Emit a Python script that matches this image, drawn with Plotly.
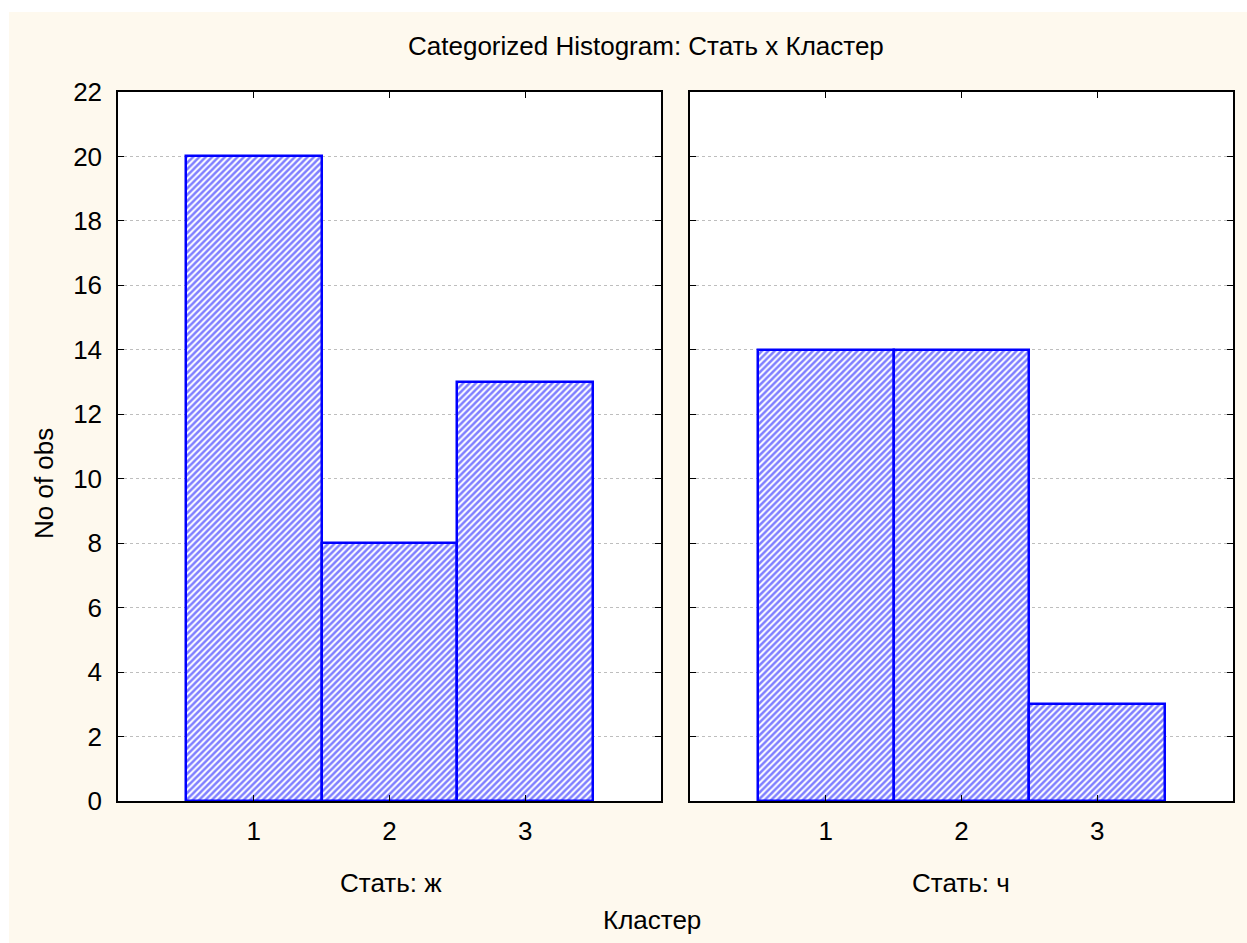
import plotly.graph_objects as go

# Histogram counts per cluster, split by sex
clusters = [1, 2, 3]
counts_f = [20, 8, 13]
counts_m = [14, 14, 3]
panel_labels = ["Стать: ж", "Стать: ч"]
y_ticks = list(range(0, 23, 2))

W, H = 1247, 943
# plot area edges in pixels
L, R, T, B = 118, 1233, 92, 801
FONT = "Liberation Sans, Arial, sans-serif"
FS = 26
BLUE = "#0000FF"
CREAM = "#FEF9EE"


def px_x(p):
    return (p - L) / (R - L)


def px_y(p):
    return (B - p) / (B - T)


fig = go.Figure()

for i, counts in enumerate([counts_f, counts_m]):
    xa = "x" if i == 0 else "x2"
    ya = "y" if i == 0 else "y2"
    fig.add_trace(go.Bar(
        x=clusters, y=counts, width=1, xaxis=xa, yaxis=ya,
        marker=dict(
            color="white",
            line=dict(color=BLUE, width=2.5),
            pattern=dict(shape="/", fgcolor=BLUE, bgcolor="white",
                         size=4.5, solidity=0.55),
        ),
        showlegend=False, hoverinfo="x+y",
    ))

x_domains = [[px_x(118), px_x(661)], [px_x(690), px_x(1233)]]
y_domain = [0, 1]

axis_common = dict(
    showline=True, linecolor="black", linewidth=1.5, mirror="ticks",
    ticks="inside", ticklen=6, tickcolor="black", tickwidth=1,
    zeroline=False,
    tickfont=dict(family=FONT, size=FS, color="black"),
)

layout = dict(
    width=W, height=H,
    margin=dict(l=L, r=W - R, t=T, b=H - B, autoexpand=False),
    paper_bgcolor=CREAM, plot_bgcolor="white",
    bargap=0,
    font=dict(family=FONT, size=FS, color="black"),
)

for i in range(2):
    xkey = "xaxis" if i == 0 else "xaxis2"
    ykey = "yaxis" if i == 0 else "yaxis2"
    layout[xkey] = dict(
        axis_common, domain=x_domains[i], range=[0, 4],
        tickvals=clusters, ticktext=[str(c) for c in clusters],
        showgrid=False, anchor="y" if i == 0 else "y2",
        ticklabelstandoff=6,
    )
    layout[ykey] = dict(
        axis_common, domain=y_domain, range=[0, 22],
        tickvals=y_ticks, showgrid=True, gridcolor="#BEBEBE",
        griddash="dot", gridwidth=1,
        showticklabels=(i == 0), anchor="x" if i == 0 else "x2",
        ticklabelstandoff=9,
    )

fig.update_layout(**layout)

# white frame strips along the top and left edges
fig.add_shape(type="rect", xref="paper", yref="paper",
              x0=px_x(0), x1=px_x(W), y0=px_y(12), y1=px_y(0),
              fillcolor="white", line=dict(width=0), layer="below")
fig.add_shape(type="rect", xref="paper", yref="paper",
              x0=px_x(0), x1=px_x(9), y0=px_y(H), y1=px_y(0),
              fillcolor="white", line=dict(width=0), layer="below")

annotations = [
    dict(text="Categorized Histogram: Стать x Кластер", x=px_x(646), y=px_y(46)),
    dict(text=panel_labels[0], x=px_x(391), y=px_y(883)),
    dict(text=panel_labels[1], x=px_x(961), y=px_y(883)),
    dict(text="Кластер", x=px_x(652), y=px_y(920)),
    dict(text="No of obs", x=px_x(44), y=px_y(484), textangle=-90),
]
for a in annotations:
    fig.add_annotation(xref="paper", yref="paper", showarrow=False,
                       xanchor="center", yanchor="middle",
                       font=dict(family=FONT, size=FS, color="black"), **a)

fig.write_html("out.html")
